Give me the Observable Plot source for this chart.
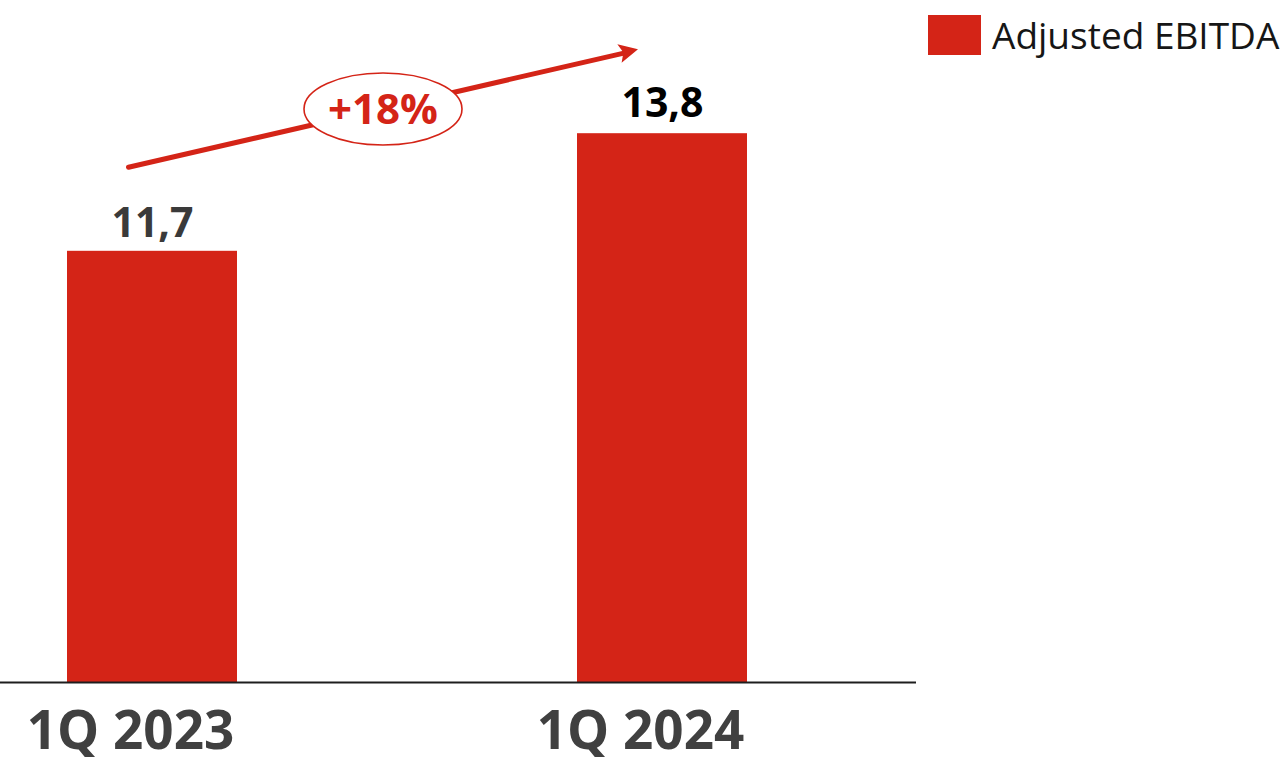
<!DOCTYPE html>
<html><head><meta charset="utf-8">
<script src="https://cdn.jsdelivr.net/npm/d3@7"></script>
<script src="https://cdn.jsdelivr.net/npm/@observablehq/plot@0.6"></script>
<style>
html,body{margin:0;padding:0;background:#fff;}
#wrap{position:relative;width:1288px;height:757px;font-family:"Open Sans",sans-serif;}
#legend{position:absolute;left:928px;top:15px;display:flex;align-items:center;font-size:37px;color:#161616;line-height:40px;white-space:nowrap;}
#legend .sw{width:53px;height:40px;margin-right:11px;flex:none;}
</style></head><body>
<div id="wrap"><div id="legend"></div></div>
<script>
const categories = ["1Q 2023", "1Q 2024"];
const values = [11.7, 13.8];
const valueLabels = ["11,7", "13,8"];
const seriesName = "Adjusted EBITDA";
const changeLabel = "+18%";

const RED = "#d42417";
const data = categories.map((c, i) => ({cat: c, value: values[i], label: valueLabels[i], i}));
const arrowData = [{from: categories[0], to: categories[1], v0: values[0], v1: values[1]}];
const ARROW_DX = -24, ARROW_DY = -84;

function changeBadge(index, scales) {
  const x = scales.x, y = scales.y;
  const bw = x.bandwidth ? x.bandwidth() : 0;
  const x0 = x(categories[0]) + bw / 2 + ARROW_DX, y0 = y(values[0]) + ARROW_DY;
  const x1 = x(categories[1]) + bw / 2 + ARROW_DX, y1 = y(values[1]) + ARROW_DY;
  const len = Math.hypot(x1 - x0, y1 - y0);
  const ux = (x1 - x0) / len, uy = (y1 - y0) / len;
  const nx = -uy, ny = ux;
  const g = d3.create("svg:g");
  // filled arrowhead
  const L = 19, W = 9.5, N = 15;
  const pts = [
    [x1, y1],
    [x1 - L * ux + W * nx, y1 - L * uy + W * ny],
    [x1 - N * ux, y1 - N * uy],
    [x1 - L * ux - W * nx, y1 - L * uy - W * ny]
  ];
  g.append("path").attr("d", "M" + pts.map(p => p.join(",")).join("L") + "Z").attr("fill", RED);
  const cx = (x0 + x1) / 2, cy = (y0 + y1) / 2;
  g.append("ellipse").attr("cx", cx).attr("cy", cy + 1).attr("rx", 79).attr("ry", 36)
    .attr("fill", "#fff").attr("stroke", RED).attr("stroke-width", 1.6);
  g.append("text").attr("x", cx).attr("y", cy + 1).attr("dy", "0.36em")
    .attr("text-anchor", "middle").attr("fill", RED)
    .attr("font-size", 42).attr("font-weight", 700).text(changeLabel);
  return g.node();
}

const chart = Plot.plot({
  width: 1288,
  height: 757,
  marginLeft: 0,
  marginRight: 372,
  marginTop: 122,
  marginBottom: 75,
  style: {fontFamily: "Open Sans", background: "transparent"},
  x: {type: "band", domain: categories, range: [0, 813], paddingInner: 0.667, paddingOuter: 0.129, axis: null},
  y: {domain: [4, 14], clamp: true, axis: null},
  marks: [
    Plot.barY(data, {x: "cat", y: "value", fill: RED}),
    Plot.ruleY([4], {stroke: "#1e1e1e", strokeWidth: 2}),
    Plot.axisX({tickSize: 0, tickPadding: 29, dx: -22, fontSize: 53, fontWeight: 700, color: "#404040"}),
    Plot.text(data.filter(d => d.i < data.length - 1), {x: "cat", y: "value", text: "label", dy: -27, lineAnchor: "middle", fontSize: 41, fontWeight: 700, fill: "#3a3a3a"}),
    Plot.text(data.filter(d => d.i === data.length - 1), {x: "cat", y: "value", text: "label", dy: -30, lineAnchor: "middle", fontSize: 41, fontWeight: 700, fill: "#000"}),
    Plot.arrow(arrowData, {x1: "from", y1: "v0", x2: "to", y2: "v1", dx: ARROW_DX, dy: ARROW_DY, stroke: RED, strokeWidth: 5, headLength: 0, insetEnd: 15}),
    changeBadge
  ]
});
document.getElementById("wrap").prepend(chart);
const lg = document.getElementById("legend");
lg.innerHTML = `<span class="sw" style="background:${RED}"></span><span>${seriesName}</span>`;
</script>
</body></html>
